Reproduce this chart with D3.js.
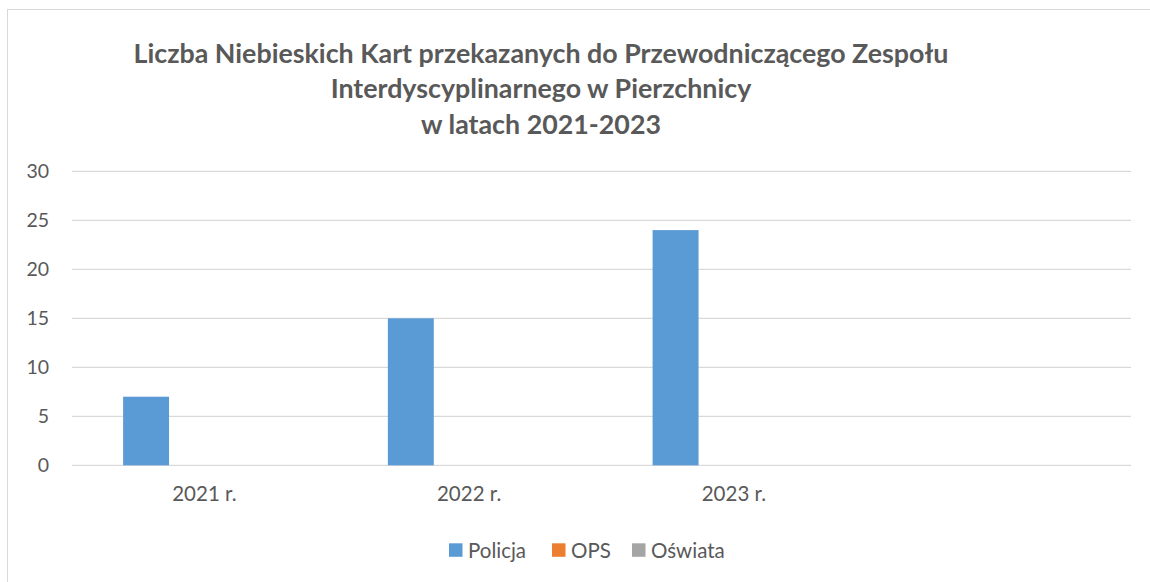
<!DOCTYPE html>
<html>
<head>
<meta charset="utf-8">
<script src="https://cdn.jsdelivr.net/npm/d3@7"></script>
<style>
  body { margin: 0; background: #fff; }
  text { font-family: Lato, "Open Sans", sans-serif; fill: #595959; }
</style>
</head>
<body>
<div id="chart"></div>
<script>
// categories (the fourth slot is empty in the original chart)
const categories = ['2021 r.', '2022 r.', '2023 r.', ''];
const seriesNames = ['Policja', 'OPS', 'Oświata'];
const policja = [7, 15, 24];
const ops = [0, 0, 0];
const oswiata = [0, 0, 0];
const yTicks = [0, 5, 10, 15, 20, 25, 30];
const titleLines = [
  'Liczba Niebieskich Kart przekazanych do Przewodniczącego Zespołu',
  'Interdyscyplinarnego w Pierzchnicy',
  'w latach 2021-2023'
];

(function() {
  const W = 1150, H = 582;
  const colors = d3.scaleOrdinal().domain(seriesNames).range(['#5b9bd5', '#ed7d31', '#a5a5a5']);

  const svg = d3.select('#chart').append('svg')
    .attr('width', W).attr('height', H);

  // chart area frame (runs off the right and bottom edge)
  svg.append('rect')
    .attr('x', 7.5).attr('y', 9.5)
    .attr('width', 1200).attr('height', 700)
    .attr('fill', 'none').attr('stroke', '#d9d9d9').attr('stroke-width', 1);

  const x0 = d3.scaleBand().domain(categories).range([72, 1131]);
  const x1 = d3.scaleBand().domain(seriesNames)
    .range([x0.bandwidth() * 0.193, x0.bandwidth() * 0.807])
    .paddingInner(0.212);
  const y = d3.scaleLinear().domain([0, 30]).range([465.3, 171.3]);

  // gridlines
  svg.append('g')
    .selectAll('line')
    .data(yTicks)
    .enter().append('line')
    .attr('x1', 72).attr('x2', 1131)
    .attr('y1', d => y(d)).attr('y2', d => y(d))
    .attr('stroke', '#d9d9d9').attr('stroke-width', 1.3);

  // y axis labels
  const yAxis = d3.axisLeft(y).tickValues(yTicks).tickSize(0).tickPadding(0);
  const ya = svg.append('g').attr('transform', 'translate(49,0)').call(yAxis);
  ya.select('.domain').remove();
  ya.selectAll('text')
    .attr('fill', '#595959')
    .style('font-size', '19.5px')
    .style('font-family', 'Lato, "Open Sans", sans-serif');

  // x axis labels
  const xAxis = d3.axisBottom(x0).tickSize(0).tickPadding(0);
  const xa = svg.append('g').attr('transform', 'translate(0,486)').call(xAxis);
  xa.select('.domain').remove();
  xa.selectAll('text')
    .attr('fill', '#595959')
    .style('font-size', '20.5px')
    .style('font-family', 'Lato, "Open Sans", sans-serif');

  // bars
  const rows = categories.slice(0, 3).map((c, i) => ({
    cat: c,
    vals: [
      { s: 'Policja', v: policja[i] },
      { s: 'OPS', v: ops[i] },
      { s: 'Oświata', v: oswiata[i] }
    ]
  }));

  svg.append('g')
    .selectAll('g')
    .data(rows)
    .enter().append('g')
    .attr('transform', d => `translate(${x0(d.cat)},0)`)
    .selectAll('rect')
    .data(d => d.vals)
    .enter().append('rect')
    .attr('x', d => x1(d.s))
    .attr('width', x1.bandwidth())
    .attr('y', d => y(d.v))
    .attr('height', d => y(0) - y(d.v))
    .attr('fill', d => colors(d.s));

  // title
  svg.append('text')
    .attr('text-anchor', 'middle')
    .style('font-size', '26.8px')
    .style('font-weight', 'bold')
    .selectAll('tspan')
    .data(titleLines)
    .enter().append('tspan')
    .attr('x', 541)
    .attr('y', (d, i) => 63 + i * 35.3)
    .text(d => d);

  // legend
  const legendX = [449, 552, 632];
  const legend = svg.append('g').attr('class', 'legend');
  const items = legend.selectAll('g')
    .data(seriesNames)
    .enter().append('g')
    .attr('transform', (d, i) => `translate(${legendX[i]},550)`);
  items.append('rect')
    .attr('x', 0).attr('y', -6.7)
    .attr('width', 13.5).attr('height', 13.5)
    .attr('fill', d => colors(d));
  items.append('text')
    .attr('x', 19).attr('y', 0)
    .attr('dominant-baseline', 'central')
    .style('font-size', '20.5px')
    .text(d => d);
})();
</script>
</body>
</html>
